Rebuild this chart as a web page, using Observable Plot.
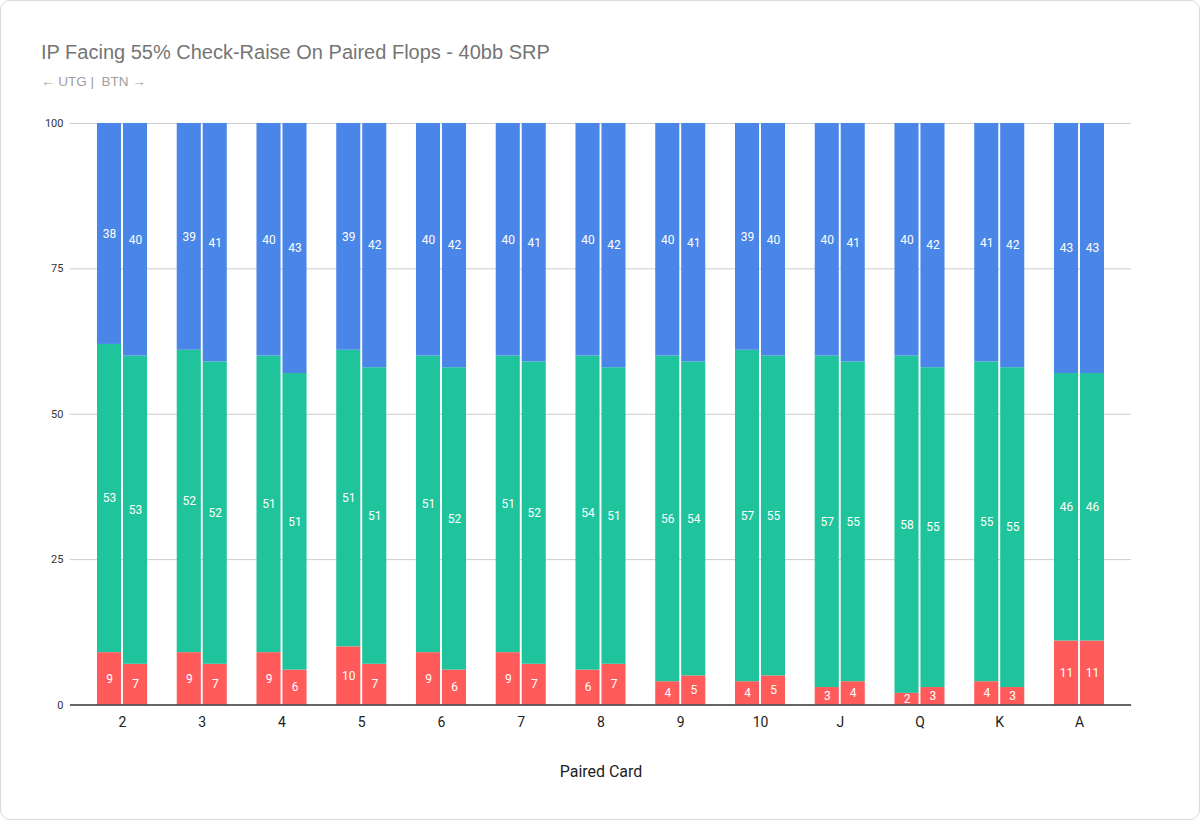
<!DOCTYPE html>
<html>
<head>
<meta charset="utf-8">
<script src="https://cdn.jsdelivr.net/npm/d3@7"></script>
<script src="https://cdn.jsdelivr.net/npm/@observablehq/plot@0.6"></script>
<style>
  html, body { margin: 0; padding: 0; background: #fff; }
  #wrap { position: relative; width: 1198px; height: 818px; border: 1px solid #dadada; border-radius: 10px; overflow: hidden; background: #fff; }
  #title { position: absolute; left: 40px; top: 40px; font-family: "Liberation Sans", Arial, sans-serif; font-size: 20px; color: #757575; }
  #subtitle { position: absolute; left: 40px; top: 73px; font-family: "Liberation Sans", Arial, sans-serif; font-size: 13.5px; color: #9e9e9e; }
  #chart { position: absolute; left: -1px; top: 99px; }
</style>
</head>
<body>
<div id="wrap">
  <div id="title">IP Facing 55% Check-Raise On Paired Flops - 40bb SRP</div>
  <div id="subtitle">← UTG |&nbsp; BTN →</div>
  <div id="chart"></div>
</div>
<script>
const cards = ["2","3","4","5","6","7","8","9","10","J","Q","K","A"];
const actions = ["Fold","Call","Raise"];
const utgFold  = [9,9,9,10,9,9,6,4,4,3,2,4,11];
const utgCall  = [53,52,51,51,51,51,54,56,57,57,58,55,46];
const utgRaise = [38,39,40,39,40,40,40,40,39,40,40,41,43];
const btnFold  = [7,7,6,7,6,7,7,5,5,4,3,3,11];
const btnCall  = [53,52,51,51,52,52,51,54,55,55,55,55,46];
const btnRaise = [40,41,43,42,42,41,42,41,40,41,42,42,43];
const yTicks = [0,25,50,75,100];
const colors = ["#ff5b5b", "#1fc49c", "#4a86e8"];

function rows(player, f, c, r) {
  const out = [];
  cards.forEach((card, i) => {
    [f[i], c[i], r[i]].forEach((v, k) => out.push({card, player, action: actions[k], value: v}));
  });
  return out;
}
const utg = rows("UTG", utgFold, utgCall, utgRaise);
const btn = rows("BTN", btnFold, btnCall, btnRaise);

const half = 26;
const common = {x: "card", y: "value", fill: "action", z: "action", order: actions};
const labelStyle = {fill: "white", fontSize: 12, fontFamily: "Roboto, sans-serif"};

const chart = Plot.plot({
  width: 1200,
  height: 685,
  marginLeft: 70,
  marginRight: 68,
  marginTop: 23,
  marginBottom: 80,
  style: {fontFamily: "Roboto, sans-serif", background: "white"},
  x: {domain: cards, paddingInner: 0.3724, paddingOuter: 0.339, round: false, label: null},
  y: {domain: [0, 100], ticks: yTicks, label: null},
  color: {domain: actions, range: colors},
  marks: [
    Plot.ruleY(yTicks.filter(d => d > 0), {stroke: "#cccccc", strokeWidth: 1}),
    Plot.barY(utg, Plot.stackY({...common, insetRight: half, insetLeft: 0})),
    Plot.barY(btn, Plot.stackY({...common, insetLeft: half, insetRight: 0})),
    Plot.text(utg, Plot.stackY({x: "card", y: "value", z: "action", order: actions, text: "value", dx: -13, ...labelStyle})),
    Plot.text(btn, Plot.stackY({x: "card", y: "value", z: "action", order: actions, text: "value", dx: 13, ...labelStyle})),
    Plot.ruleY([0], {stroke: "#333333", strokeWidth: 1.5}),
    Plot.axisY({ticks: yTicks, tickSize: 0, tickPadding: 7, fontSize: 11, fill: "#333", label: null}),
    Plot.axisX({tickSize: 0, tickPadding: 12, fontSize: 14, fill: "#222", label: "Paired Card", labelAnchor: "center", labelOffset: 72, labelArrow: "none"})
  ]
});
chart.querySelectorAll("[aria-label='x-axis label'] text, [aria-label='x-axis label']").forEach(e => { e.style.fontSize = "16px"; });
document.getElementById("chart").appendChild(chart);
</script>
</body>
</html>
